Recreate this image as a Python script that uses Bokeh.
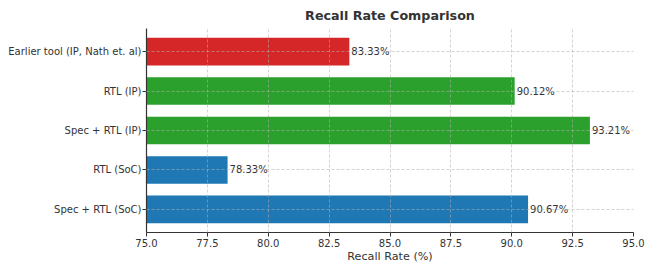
from bokeh.plotting import figure
from bokeh.models import FactorRange, Range1d, FixedTicker, PrintfTickFormatter, ColumnDataSource
from bokeh.core.properties import value
from bokeh.embed import file_html
from bokeh.resources import INLINE

categories = ["Earlier tool (IP, Nath et. al)", "RTL (IP)", "Spec + RTL (IP)", "RTL (SoC)", "Spec + RTL (SoC)"]
recall = [83.33, 90.12, 93.21, 78.33, 90.67]
colors = ["#d62728", "#2ca02c", "#2ca02c", "#1f77b4", "#1f77b4"]
x_ticks = [75.0, 77.5, 80.0, 82.5, 85.0, 87.5, 90.0, 92.5, 95.0]
x_label = "Recall Rate (%)"

FONT = "DejaVu Sans"
TXT = "#333333"

src = ColumnDataSource(dict(
    cat=categories,
    val=recall,
    col=colors,
    lbl=["%.2f%%" % v for v in recall],
))

yr = FactorRange(factors=list(reversed(categories)), range_padding=0.085, range_padding_units="absolute")
xr = Range1d(x_ticks[0], x_ticks[-1])

p = figure(width=646, height=265, y_range=yr, x_range=xr,
           output_backend="svg", toolbar_location=None,
           min_border_left=146, min_border_right=13, min_border_top=27, min_border_bottom=31)

p.hbar(y="cat", left=xr.start, right="val", height=0.7, fill_color="col", line_color=None, source=src)
p.text(x="val", y="cat", text="lbl", source=src, x_offset=2, text_align="left", text_baseline="middle",
       text_font=value(FONT), text_font_size="10px", text_color=TXT)

p.title.text = "Recall Rate Comparison"
p.title.align = "center"
p.title.text_font = FONT
p.title.text_font_size = "12.7px"
p.title.text_font_style = "bold"
p.title.text_color = TXT
p.title.standoff = 11
p.title.offset = 0

p.outline_line_color = None

for g in (p.xgrid, p.ygrid):
    g.grid_line_color = "#b0b0b0"
    g.grid_line_alpha = 0.7
    g.grid_line_dash = "3 2"
    g.grid_line_width = 0.8
    g.level = "annotation"

xa = p.xaxis[0]
xa.ticker = FixedTicker(ticks=x_ticks)
xa.formatter = PrintfTickFormatter(format="%.1f")
xa.axis_label = x_label
ya = p.yaxis[0]

for ax in (xa, ya):
    ax.axis_line_color = TXT
    ax.axis_line_width = 1.2
    ax.major_tick_line_color = TXT
    ax.major_tick_out = 4
    ax.major_tick_in = 0
    ax.minor_tick_line_color = None
    ax.major_label_text_font = FONT
    ax.major_label_text_font_size = "10px"
    ax.major_label_text_color = TXT
    ax.axis_label_text_font = FONT
    ax.axis_label_text_font_size = "11.2px"
    ax.axis_label_text_font_style = "normal"
    ax.axis_label_text_color = TXT

xa.major_label_standoff = 2
xa.axis_label_standoff = 0
xa.axis_label_text_baseline = "middle"
ya.major_label_standoff = 1

open("out.html", "w").write(file_html(p, INLINE))
